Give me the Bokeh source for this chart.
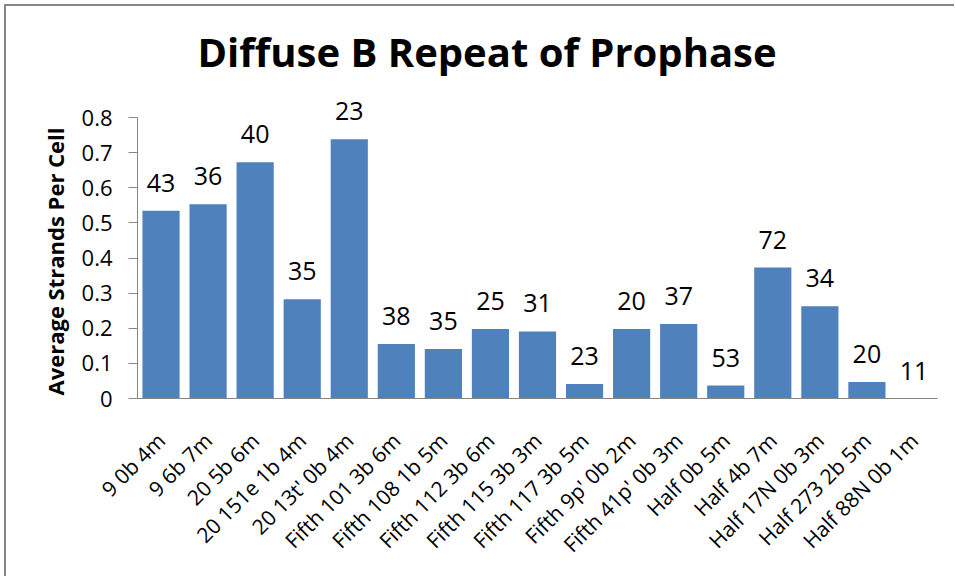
import math
from bokeh.plotting import figure
from bokeh.models import (Range1d, FixedTicker, CustomJSTickFormatter,
                          ColumnDataSource, Title)
from bokeh.core.properties import value
from bokeh.embed import file_html
from bokeh.resources import INLINE

# Strain / condition categories
categories = [
    "9 0b 4m", "9 6b 7m", "20 5b 6m", "20 151e 1b 4m", "20 13t' 0b 4m",
    "Fifth 101 3b 6m", "Fifth 108 1b 5m", "Fifth 112 3b 6m", "Fifth 115 3b 3m",
    "Fifth 117 3b 5m", "Fifth 9p' 0b 2m", "Fifth 41p' 0b 3m", "Half 0b 5m",
    "Half 4b 7m", "Half 17N 0b 3m", "Half 273 2b 5m", "Half 88N 0b 1m",
]
# Average strands per cell for each category
avg_strands = [
    0.535, 0.553, 0.673, 0.283, 0.738, 0.155, 0.141, 0.198, 0.191,
    0.041, 0.198, 0.212, 0.037, 0.373, 0.263, 0.047, 0.0,
]
# Number of cells scored (shown above each bar)
cell_counts = [43, 36, 40, 35, 23, 38, 35, 25, 31, 23, 20, 37, 53, 72, 34, 20, 11]

y_ticks = [0, 0.1, 0.2, 0.3, 0.4, 0.5, 0.6, 0.7, 0.8]

FONT = "Open Sans"
GREY = "#868686"

src = ColumnDataSource(dict(
    cat=categories,
    val=avg_strands,
    n=[str(c) for c in cell_counts],
))

# The range extends a little past 0.8 so the count labels have room;
# the axis itself stops at 0.8.
p = figure(
    width=950, height=572,
    x_range=categories,
    y_range=Range1d(0, 0.88),
    output_backend="svg",
    toolbar_location=None,
    title="Diffuse B Repeat of Prophase",
    min_border_left=131, min_border_right=19,
    min_border_top=83, min_border_bottom=180,
)
p.styles = {
    "margin-left": "4px", "margin-top": "4px",
    "border-left": f"2px solid {GREY}", "border-top": f"2px solid {GREY}",
}

p.title.align = "left"
p.title.offset = 60
p.title.standoff = 21
p.title.text_font = FONT
p.title.text_font_style = "bold"
p.title.text_font_size = "40px"
p.title.text_color = "black"

# y-axis caption, anchored at the bottom so it spans the 0-0.8 axis
p.add_layout(Title(
    text="Average Strands Per Cell", align="left", offset=3, standoff=17,
    text_font=FONT, text_font_style="bold", text_font_size="22px",
    text_color="black",
), "left")

p.vbar(x="cat", top="val", width=0.79, source=src,
       fill_color="#4F81BD", line_color=None)

p.text(x="cat", y="val", text="n", source=src,
       y_offset=-28, text_align="center", text_baseline="alphabetic",
       text_font=value(FONT), text_font_size="25px", text_color="black")

p.xgrid.grid_line_color = None
p.ygrid.grid_line_color = None
p.outline_line_color = None
p.background_fill_color = "white"
p.border_fill_color = "white"

p.yaxis.bounds = (0, 0.8)
p.yaxis.ticker = FixedTicker(ticks=y_ticks)
p.yaxis.formatter = CustomJSTickFormatter(
    code="return tick == 0 ? '0' : tick.toFixed(1);")
p.yaxis.major_label_text_font = FONT
p.yaxis.major_label_text_font_size = "22px"
p.yaxis.major_label_text_color = "black"
p.yaxis.major_label_standoff = 16
p.yaxis.major_tick_out = 9
p.yaxis.major_tick_in = 0
p.yaxis.major_tick_line_color = GREY
p.yaxis.minor_tick_line_color = None

p.xaxis.major_label_orientation = math.pi / 4
p.xaxis.major_label_text_font = FONT
p.xaxis.major_label_text_font_size = "21px"
p.xaxis.major_label_text_color = "black"
p.xaxis.major_label_standoff = 32
p.xaxis.major_tick_line_color = None
p.xaxis.minor_tick_line_color = None

for ax in (p.xaxis, p.yaxis):
    ax.axis_line_color = GREY

open("out.html", "w").write(file_html(p, INLINE))
